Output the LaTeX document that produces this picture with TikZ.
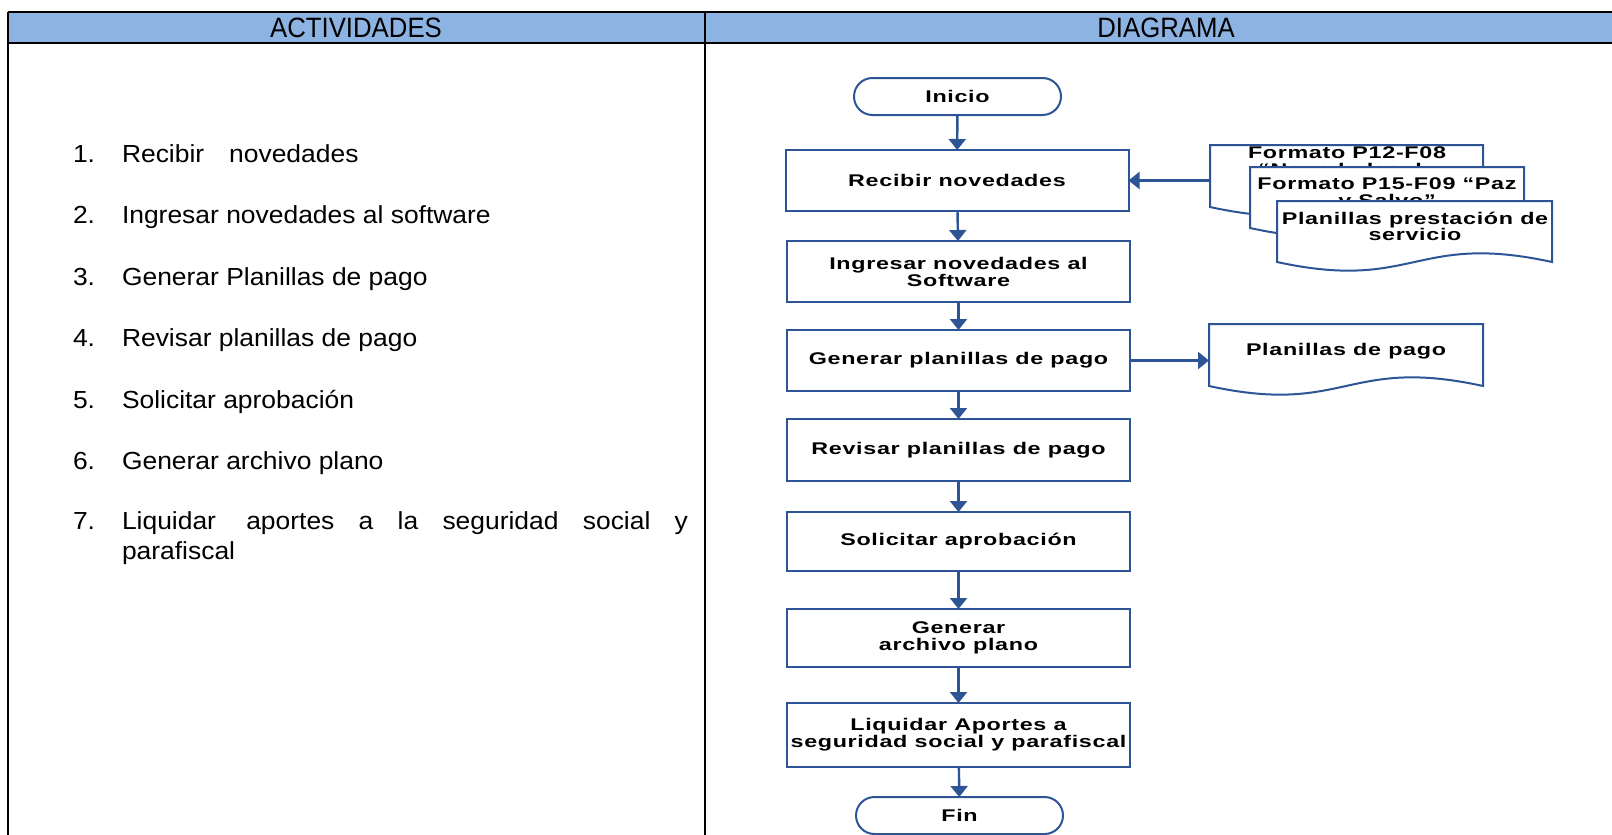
\documentclass[tikz,border=0pt]{standalone}
\usepackage{fontspec}
\setmainfont{Liberation Sans}[FakeStretch=1.07]
\newfontfamily\headfont{Liberation Sans}[FakeStretch=0.92]
\newfontfamily\flowfont{Liberation Sans}[FakeStretch=1.38,LetterSpace=4]
\usetikzlibrary{arrows.meta,shapes.misc,calc}

\definecolor{hdrblue}{RGB}{141,179,226}
\definecolor{flowblue}{RGB}{45,84,148}

% document symbol with a wavy lower edge: name, x, y, width, height
\newcommand{\docsym}[5]{%
  \path[docline] (#2,#3) -- (#2+#4,#3) -- (#2+#4,#3+#5)
    .. controls (#2+0.5*#4,#3+#5-30) and (#2+0.5*#4,#3+#5+30) .. (#2,#3+#5) -- cycle;
  \coordinate (#1-w) at (#2,#3+0.5*#5);
}

\begin{document}
\begin{tikzpicture}[x=0.5pt,y=-0.5pt,
  every node/.style={inner sep=0pt, outer sep=0pt},
  rule/.style={line width=1.3pt, draw=black},
  headtxt/.style={anchor=base, font=\headfont\fontsize{14}{16}\selectfont},
  listtxt/.style={anchor=base west, font=\fontsize{12.35}{14}\selectfont},
  flowtxt/.style={font=\flowfont\bfseries\fontsize{8.45}{8.5}\selectfont, align=center},
  procbox/.style={flowtxt, draw=flowblue, line width=1pt, fill=white,
                  minimum width=171.5pt},
  termbox/.style={flowtxt, rounded rectangle, draw=flowblue, line width=1pt,
                  fill=white, minimum width=103.5pt, minimum height=18.5pt},
  doctext/.style={flowtxt, anchor=base},
  docline/.style={draw=flowblue, line width=1pt, fill=white},
  flowarr/.style={draw=flowblue, line width=1.2pt,
                  -{Triangle[width=8.5pt,length=5.5pt]}}
]
\useasboundingbox (0,0) rectangle (1612,835);

% table frame and header band
\fill[hdrblue] (8,12) rectangle (1620,43);
\draw[rule] (8,12) -- (1620,12);
\draw[rule] (8,43) -- (1620,43);
\draw[rule] (8,12) -- (8,840);
\draw[rule] (705,12) -- (705,840);
\node[headtxt] (hact) at (356,37) {ACTIVIDADES};
\node[headtxt] (hdia) at (1166,37) {DIAGRAMA};

% list of activities
\node[listtxt] (n1) at (73,162) {1.};
\node[listtxt] (t1) at (122,162) {Recibir\hspace{12.5pt}novedades};
\node[listtxt] (n2) at (73,223.5) {2.};
\node[listtxt] (t2) at (122,223.5) {Ingresar novedades al software};
\node[listtxt] (n3) at (73,285) {3.};
\node[listtxt] (t3) at (122,285) {Generar Planillas de pago};
\node[listtxt] (n4) at (73,346.5) {4.};
\node[listtxt] (t4) at (122,346.5) {Revisar planillas de pago};
\node[listtxt] (n5) at (73,408) {5.};
\node[listtxt] (t5) at (122,408) {Solicitar aprobación};
\node[listtxt] (n6) at (73,469.5) {6.};
\node[listtxt] (t6) at (122,469.5) {Generar archivo plano};
\node[listtxt] (n7) at (73,529) {7.};
\node[listtxt] (t7) at (122,529)
  {\makebox[283pt][s]{Liquidar\hspace{3pt} aportes a la seguridad social y}};
\node[listtxt] (t7b) at (122,559) {parafiscal};

% flowchart steps
\node[termbox] (inicio) at (957.5,96.5) {Inicio};
\node[procbox, minimum height=30.5pt] (recibir) at (957,180.5) {Recibir novedades};
\node[procbox, minimum height=30.5pt] (ingresar) at (958.5,271.5) {Ingresar novedades al\\Software};
\node[procbox, minimum height=30.5pt] (generar) at (958.5,360.5) {Generar planillas de pago};
\node[procbox, minimum height=31pt] (revisar) at (958.5,450) {Revisar planillas de pago};
\node[procbox, minimum height=29.5pt] (solicitar) at (958.5,541.5) {Solicitar aprobación};
\node[procbox, minimum height=29pt] (archivo) at (958.5,638) {Generar\\archivo plano};
\node[procbox, minimum height=32pt] (liquidar) at (958.5,735) {Liquidar Aportes a\\seguridad social y parafiscal};
\node[termbox] (fin) at (959.5,815.5) {Fin};

% input documents (stacked)
\docsym{docA}{1210}{145}{273}{62}
\node[doctext] (docAt) at (1347,158) {Formato P12-F08};
\node[doctext] (docAt2) at (1347,175) {“Novedades de};
\docsym{docB}{1250}{167}{274}{61}
\node[doctext] (docBt) at (1387,189) {Formato P15-F09 “Paz};
\node[doctext] (docBt2) at (1387,206) {y Salvo”};
\docsym{docC}{1277}{201}{275}{61}
\node[doctext] (docCt) at (1415,224) {Planillas prestación de};
\node[doctext] (docCt2) at (1415,240) {servicio};

% output document
\docsym{docD}{1209}{324}{274}{62}
\node[doctext] (docDt) at (1346,355) {Planillas de pago};

% connectors
\draw[flowarr] (inicio) -- (recibir);
\draw[flowarr] (recibir) -- (ingresar);
\draw[flowarr] (ingresar) -- (generar);
\draw[flowarr] (generar) -- (revisar);
\draw[flowarr] (revisar) -- (solicitar);
\draw[flowarr] (solicitar) -- (archivo);
\draw[flowarr] (archivo) -- (liquidar);
\draw[flowarr] (liquidar) -- (fin);
\draw[flowarr] (docA-w |- recibir.east) -- (recibir.east);
\draw[flowarr] (generar.east) -- (docD-w |- generar.east);
\end{tikzpicture}
\end{document}
